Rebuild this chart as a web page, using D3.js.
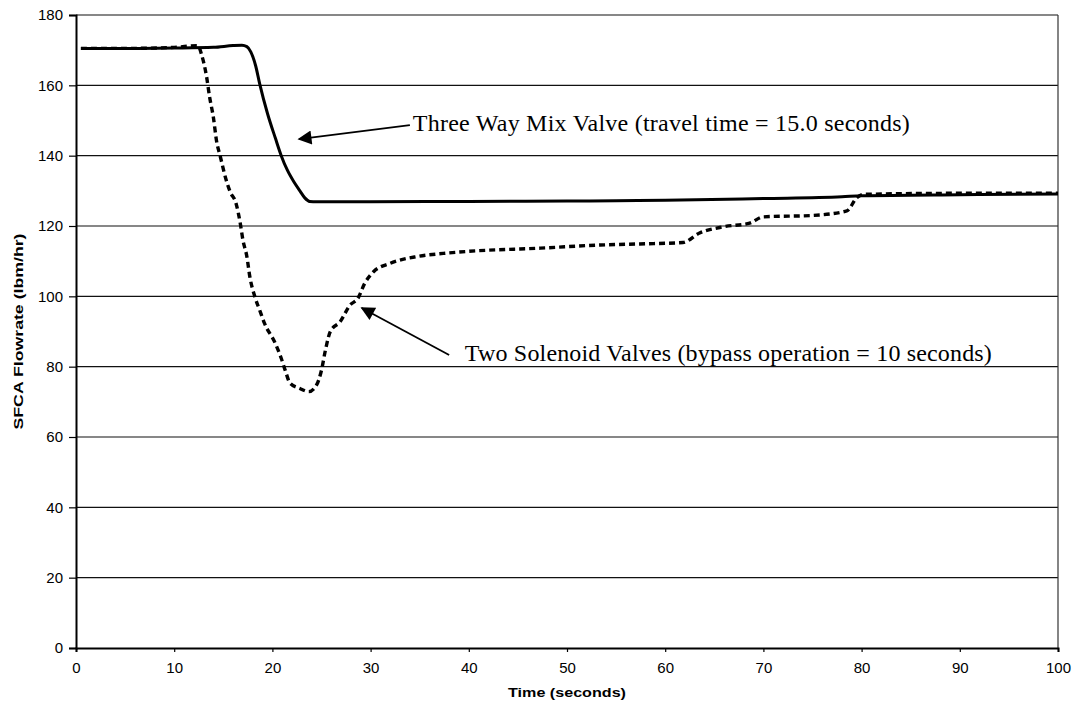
<!DOCTYPE html>
<html lang="en">
  <head>
    <meta charset="UTF-8" />
    <title>SFCA Flowrate</title>
    <script src="https://cdn.jsdelivr.net/npm/d3@7"></script>
    <style>
      html,
      body {
        margin: 0;
        padding: 0;
        background: #fff;
      }
    </style>
  </head>
  <body>
    <script>
      // time (s) / flowrate (lbm/hr)
      const mixValveTime = [0.5, 5, 10, 14, 16, 16.9, 17.4, 17.8, 18.3, 18.7, 19.5, 20.3, 20.9, 21.5, 22.2, 22.8, 23.3, 23.8, 24.5, 30, 40, 50, 55, 60, 70, 78, 80, 90, 100];
      const mixValveFlow = [170.5, 170.5, 170.6, 170.8, 171.3, 171.4, 171, 169.5, 165.5, 160.5, 152, 145, 140, 136, 132.5, 130, 128, 127, 126.9, 126.9, 127, 127.1, 127.2, 127.3, 127.8, 128.3, 128.6, 128.9, 129.1];

      const solenoidTime = [0.5, 5, 10, 12.4, 12.8, 13.3, 13.6, 14, 14.3, 14.7, 15.3, 15.7, 16.3, 16.7, 17, 17.4, 17.7, 18.2, 18.7, 19.2, 20.3, 20.9, 21.3, 21.8, 22.8, 23.7, 24.5, 25, 25.4, 25.9, 26.9, 27.9, 28.7, 29.4, 30.3, 32, 34.7, 37.4, 40, 47.3, 53.4, 57.4, 61.8, 63.5, 66, 68.6, 70, 75, 78.5, 79.5, 80.2, 90, 100];
      const solenoidFlow = [170.5, 170.5, 170.8, 171.3, 168.6, 162.4, 156.8, 150.7, 144.4, 139.7, 133, 129.7, 126.4, 121.2, 116, 111.3, 105.6, 100, 96.1, 92.3, 86.6, 82.4, 79, 75.3, 73.8, 72.9, 74.8, 79, 84.7, 90, 92.8, 97.5, 99.4, 103.7, 107, 109.4, 111.3, 112.2, 112.8, 113.7, 114.6, 114.9, 115.3, 118, 119.8, 120.8, 122.6, 123, 124.3, 128, 129, 129.3, 129.3];

      const xTicks = [0, 10, 20, 30, 40, 50, 60, 70, 80, 90, 100];
      const yTicks = [0, 20, 40, 60, 80, 100, 120, 140, 160, 180];

      const notes = [
        { text: 'Three Way Mix Valve (travel time = 15.0 seconds)', at: [34.3, 147], from: [34.0, 148.7], to: [22.7, 144.7], len: 497 },
        { text: 'Two Solenoid Valves (bypass operation = 10 seconds)', at: [39.6, 81.6], from: [38.0, 83.3], to: [29.1, 96.7], len: 527 },
      ];

      const width = 1077,
        height = 709,
        margin = { top: 15, right: 19, bottom: 61, left: 76 };

      const svg = d3
        .select('body')
        .append('svg')
        .attr('width', width)
        .attr('height', height)
        .style('display', 'block');

      svg
        .append('defs')
        .append('marker')
        .attr('id', 'head')
        .attr('viewBox', '0 0 10 10')
        .attr('refX', 9)
        .attr('refY', 5)
        .attr('markerUnits', 'userSpaceOnUse')
        .attr('markerWidth', 19)
        .attr('markerHeight', 14)
        .attr('orient', 'auto')
        .append('path')
        .attr('d', 'M0,0 L10,5 L0,10 Z')
        .style('fill', '#000');

      const x = d3
        .scaleLinear()
        .domain([0, 100])
        .range([margin.left, width - margin.right]);

      const y = d3
        .scaleLinear()
        .domain([0, 180])
        .range([height - margin.bottom, margin.top]);

      // grid
      svg
        .append('g')
        .selectAll('line')
        .data(yTicks.slice(1))
        .join('line')
        .attr('x1', x(0))
        .attr('x2', x(100))
        .attr('y1', d => y(d))
        .attr('y2', d => y(d))
        .style('stroke', '#111')
        .style('stroke-width', 1.2);

      svg
        .append('line')
        .attr('x1', x(100))
        .attr('x2', x(100))
        .attr('y1', y(0))
        .attr('y2', y(180))
        .style('stroke', '#333')
        .style('stroke-width', 1.2);

      const xAxis = svg
        .append('g')
        .attr('transform', `translate(0, ${y(0)})`)
        .call(d3.axisBottom(x).tickValues(xTicks).tickSize(4).tickPadding(10));

      const yAxis = svg
        .append('g')
        .attr('transform', `translate(${x(0)}, 0)`)
        .call(d3.axisLeft(y).tickValues(yTicks).tickSize(7).tickPadding(6));

      [xAxis, yAxis].forEach(g => {
        g.select('.domain').style('stroke', '#000').style('stroke-width', 2);
        g.selectAll('.tick line').style('stroke', '#000').style('stroke-width', 1.2);
        g.selectAll('.tick text')
          .style('font-family', '"Liberation Sans", Arial, sans-serif')
          .style('font-size', '15px')
          .style('fill', '#000');
      });

      const line = d3
        .line()
        .x(d => x(d[0]))
        .y(d => y(d[1]))
        .curve(d3.curveMonotoneX);

      svg
        .append('path')
        .datum(d3.zip(mixValveTime, mixValveFlow))
        .attr('d', line)
        .style('fill', 'none')
        .style('stroke', '#000')
        .style('stroke-width', 3);

      svg
        .append('path')
        .datum(d3.zip(solenoidTime, solenoidFlow))
        .attr('d', line)
        .style('fill', 'none')
        .style('stroke', '#000')
        .style('stroke-width', 3.4)
        .style('stroke-dasharray', '6,4');

      // annotations
      notes.forEach(n => {
        svg
          .append('line')
          .attr('x1', x(n.from[0]))
          .attr('y1', y(n.from[1]))
          .attr('x2', x(n.to[0]))
          .attr('y2', y(n.to[1]))
          .attr('marker-end', 'url(#head)')
          .style('stroke', '#000')
          .style('stroke-width', 1.8);

        svg
          .append('text')
          .attr('x', x(n.at[0]))
          .attr('y', y(n.at[1]))
          .attr('textLength', n.len)
          .style('font-family', '"Liberation Serif", "Times New Roman", serif')
          .style('font-size', '24px')
          .style('fill', '#000')
          .text(n.text);
      });

      // axis titles
      svg
        .append('text')
        .attr('x', (x(0) + x(100)) / 2)
        .attr('y', 697)
        .attr('text-anchor', 'middle')
        .attr('textLength', 118)
        .attr('lengthAdjust', 'spacingAndGlyphs')
        .style('font-family', '"Liberation Sans", Arial, sans-serif')
        .style('font-weight', 'bold')
        .style('font-size', '13px')
        .text('Time (seconds)');

      svg
        .append('text')
        .attr('transform', `translate(23, ${(y(0) + y(180)) / 2}) rotate(-90)`)
        .attr('text-anchor', 'middle')
        .attr('textLength', 196)
        .attr('lengthAdjust', 'spacingAndGlyphs')
        .style('font-family', '"Liberation Sans", Arial, sans-serif')
        .style('font-weight', 'bold')
        .style('font-size', '13px')
        .text('SFCA Flowrate (lbm/hr)');
    </script>
  </body>
</html>
